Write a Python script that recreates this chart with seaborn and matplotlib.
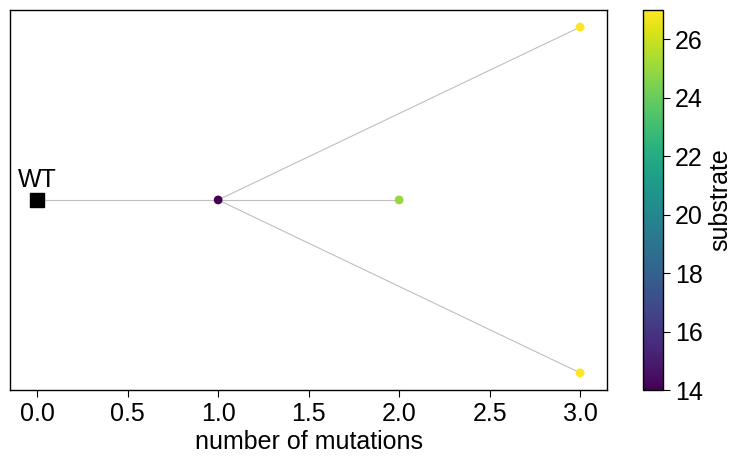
import matplotlib
matplotlib.use("Agg")
import matplotlib.pyplot as plt
import seaborn as sns
import numpy as np
import pandas as pd

# data
node_mutations = [1, 2, 3, 3]
node_y = [0, 0, 1, -1]
node_substrate = [14, 25, 27, 27]
wt_mutations = 0
wt_y = 0
edge_parent = [-1, 0, 0, 0]  # -1 = WT
vmin, vmax = 14, 27

sns.set_style("ticks", {"axes.edgecolor": "black", "text.color": "black",
                        "axes.labelcolor": "black", "xtick.color": "black",
                        "ytick.color": "black"})
plt.rcParams['font.family'] = ['Liberation Sans', 'DejaVu Sans']
plt.rcParams['font.size'] = 18

fig = plt.figure(figsize=(7.41, 4.65), dpi=100)
ax = fig.add_axes([0.0135, 0.161, 0.806, 0.818])
cax = fig.add_axes([0.868, 0.161, 0.027, 0.818])

# edges
for i, p in enumerate(edge_parent):
    px = wt_mutations if p < 0 else node_mutations[p]
    py = wt_y if p < 0 else node_y[p]
    ax.plot([px, node_mutations[i]], [py, node_y[i]], color="#bfbfbf", lw=0.8, zorder=1)

df = pd.DataFrame({"mutations": node_mutations, "y": node_y, "substrate": node_substrate})
norm = plt.Normalize(vmin, vmax)
sns.scatterplot(data=df, x="mutations", y="y", hue="substrate", palette="viridis",
                hue_norm=norm, s=40, edgecolor="none", legend=False, ax=ax, zorder=3)
ax.scatter([wt_mutations], [wt_y], marker="s", s=95, color="black", zorder=3)
ax.annotate("WT", (wt_mutations, wt_y), xytext=(0, 6), textcoords="offset points",
            ha="center", va="bottom", fontsize=18, color="black")

ax.set_yticks([])
ax.set_ylabel("")
ax.set_xlabel("number of mutations", fontsize=18, color="black", labelpad=3)
ax.tick_params(axis="x", labelsize=18, colors="black", length=5)
for s in ax.spines.values():
    s.set_visible(True)
    s.set_linewidth(1.0)
    s.set_color("black")

sm = plt.cm.ScalarMappable(cmap="viridis", norm=norm)
cb = fig.colorbar(sm, cax=cax)
cb.set_label("substrate", fontsize=18, color="black")
cb.ax.tick_params(labelsize=18, colors="black", length=5)
cb.outline.set_linewidth(1.0)
cb.outline.set_edgecolor("black")

fig.savefig("out.png", dpi=100)
